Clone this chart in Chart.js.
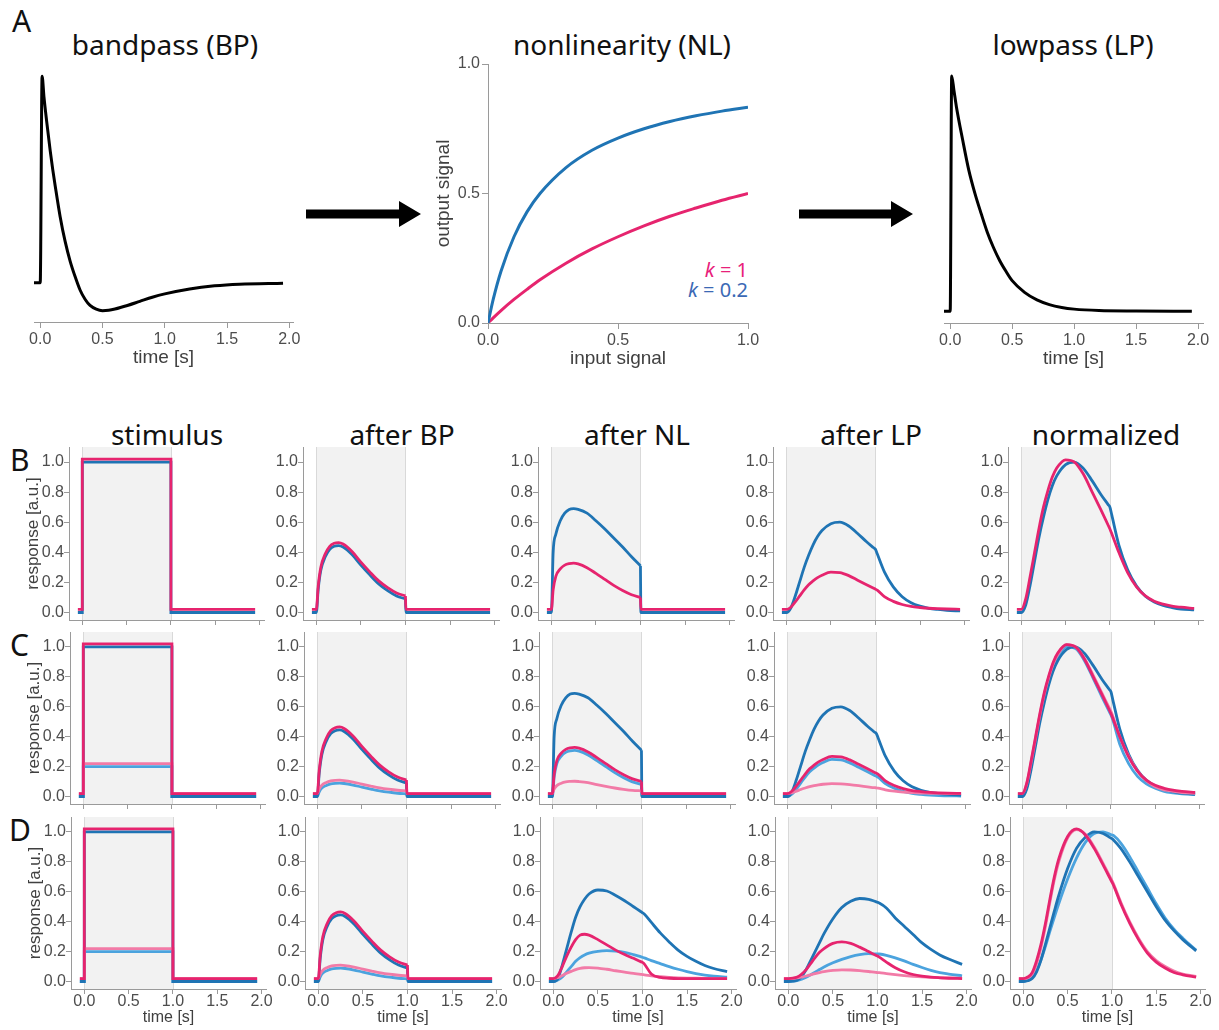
<!DOCTYPE html>
<html>
<head>
<meta charset="utf-8">
<title>LN cascade responses</title>
<script src="https://cdn.jsdelivr.net/npm/chart.js@4.4.1/dist/chart.umd.min.js"></script>
<style>
  body { margin: 0; background: #fff; }
  #page { position: relative; width: 1219px; height: 1030px; overflow: hidden; font-family: "Noto Sans", sans-serif; }
  #page canvas { position: absolute; }
  .head { position: absolute; font-size: 28px; line-height: 28px; color: #111; white-space: nowrap; transform: translateX(-50%); }
  .tag { position: absolute; font-size: 30px; line-height: 30px; color: #111; }
  .klab { position: absolute; font-size: 20px; line-height: 20px; white-space: nowrap; }
  .klab i { font-style: italic; }
</style>
</head>
<body>
<div id="page">
  <div class="tag" style="left:12px;top:6px">A</div>
  <div class="tag" style="left:10px;top:445px">B</div>
  <div class="tag" style="left:10px;top:630px">C</div>
  <div class="tag" style="left:9px;top:815px">D</div>

  <div class="head" style="left:165px;top:30px">bandpass (BP)</div>
  <div class="head" style="left:622px;top:30px">nonlinearity (NL)</div>
  <div class="head" style="left:1073px;top:30px">lowpass (LP)</div>

  <div class="head" style="left:167px;top:420px">stimulus</div>
  <div class="head" style="left:402px;top:420px">after BP</div>
  <div class="head" style="left:637px;top:420px">after NL</div>
  <div class="head" style="left:871px;top:420px">after LP</div>
  <div class="head" style="left:1106px;top:420px">normalized</div>

  <div class="klab" style="right:471px;top:260px;color:#e8207a"><i>k</i> = 1</div>
  <div class="klab" style="right:471px;top:280px;color:#3b69b5"><i>k</i> = 0.2</div>

  <svg width="1219" height="1030" style="position:absolute;left:0;top:0">
    <path d="M306 209.5H399V201L421 214L399 227V218.5H306Z" fill="#000"/>
    <path d="M799 209.5H891V201L913 214L891 227V218.5H799Z" fill="#000"/>
  </svg>
</div>

<script>
// ---- top row: filters and static nonlinearity ----
const T_BANDPASS = [-0.05, 0, 0.015, 0.03, 0.05, 0.08, 0.1, 0.12, 0.16, 0.2, 0.24, 0.28, 0.32, 0.36, 0.4, 0.45, 0.5, 0.55, 0.6, 0.7, 0.8, 0.9, 1.0, 1.2, 1.4, 1.6, 1.95];
const BANDPASS = [0, 0, 1.0, 0.9, 0.79, 0.64, 0.55, 0.47, 0.32, 0.2, 0.105, 0.03, -0.035, -0.08, -0.11, -0.128, -0.135, -0.133, -0.127, -0.11, -0.09, -0.07, -0.054, -0.03, -0.015, -0.007, -0.002];

const T_LOWPASS = [-0.05, 0, 0.012, 0.03, 0.05, 0.1, 0.15, 0.2, 0.25, 0.3, 0.35, 0.4, 0.45, 0.5, 0.6, 0.7, 0.8, 0.9, 1.0, 1.2, 1.5, 1.95];
const LOWPASS = [0, 0, 1.0, 0.94, 0.87, 0.73, 0.6, 0.5, 0.415, 0.335, 0.27, 0.215, 0.17, 0.13, 0.08, 0.048, 0.028, 0.016, 0.009, 0.003, 0.001, 0];

const NL_INPUT = [0, 0.02, 0.05, 0.1, 0.15, 0.2, 0.3, 0.4, 0.5, 0.6, 0.7, 0.8, 0.9, 1.0];
const NL_K02 = [0, 0.091, 0.2, 0.333, 0.429, 0.5, 0.6, 0.667, 0.714, 0.75, 0.778, 0.8, 0.818, 0.833];
const NL_K1 = [0, 0.02, 0.048, 0.091, 0.13, 0.167, 0.231, 0.286, 0.333, 0.375, 0.412, 0.444, 0.474, 0.5];

// ---- response grid: time bases ----
const T_STEP = [-0.05, 0, 0, 1, 1, 1.95];
// the null entry at t = 1 lifts the pen so the offset fall is drawn as its own stroke
const T_PULSE = [-0.05, 0, 0.02, 0.05, 0.1, 0.15, 0.2, 0.25, 0.3, 0.4, 0.5, 0.6, 0.7, 0.8, 0.9, 1.0, 1.0, 1.0, 1.005, 1.1, 1.5, 1.95];
// extra samples either side of t = 1 keep the offset kink sharp
const T_SMOOTH = [-0.05, 0, 0.05, 0.1, 0.15, 0.2, 0.25, 0.3, 0.35, 0.4, 0.5, 0.6, 0.7, 0.8, 0.9, 0.98, 1.0, 1.02, 1.1, 1.2, 1.3, 1.4, 1.5, 1.6, 1.7, 1.8, 1.95];

// stimulus (pink traces sit 0.02 higher so both stay visible)
const STIM_BLUE = [0, 0, 1, 1, 0, 0];
const STIM_PINK = [0.02, 0.02, 1.02, 1.02, 0.02, 0.02];
const STIM_LBLUE = [0, 0, 0.2, 0.2, 0, 0];
const STIM_LPINK = [0.02, 0.02, 0.22, 0.22, 0.02, 0.02];

// after bandpass
const BP_BLUE = [0, 0, 0.15, 0.28, 0.37, 0.42, 0.44, 0.445, 0.435, 0.385, 0.315, 0.25, 0.19, 0.145, 0.11, 0.09, null, 0.09, 0, 0, 0, 0];
const BP_PINK = [0.02, 0.02, 0.17, 0.3, 0.39, 0.44, 0.46, 0.465, 0.455, 0.405, 0.335, 0.27, 0.21, 0.165, 0.13, 0.11, null, 0.11, 0.02, 0.02, 0.02, 0.02];
const BP_LBLUE = [0, 0, 0.03, 0.056, 0.074, 0.084, 0.088, 0.089, 0.087, 0.077, 0.063, 0.05, 0.038, 0.029, 0.022, 0.018, null, 0.018, 0, 0, 0, 0];
const BP_LPINK = [0.02, 0.02, 0.05, 0.076, 0.094, 0.104, 0.108, 0.109, 0.107, 0.097, 0.083, 0.07, 0.058, 0.049, 0.042, 0.038, null, 0.038, 0.02, 0.02, 0.02, 0.02];

// after static nonlinearity (rows B, C)
const NL_BLUE = [0, 0, 0.4, 0.52, 0.61, 0.66, 0.685, 0.69, 0.685, 0.66, 0.61, 0.555, 0.495, 0.435, 0.37, 0.31, null, 0.31, 0, 0, 0, 0];
const NL_PINK = [0.02, 0.02, 0.15, 0.24, 0.29, 0.315, 0.325, 0.328, 0.323, 0.298, 0.26, 0.22, 0.18, 0.146, 0.118, 0.1, null, 0.1, 0.02, 0.02, 0.02, 0.02];
const NL_LBLUE = [0, 0, 0.13, 0.22, 0.27, 0.295, 0.305, 0.308, 0.303, 0.278, 0.24, 0.2, 0.16, 0.126, 0.098, 0.08, null, 0.08, 0, 0, 0, 0];
const NL_LPINK = [0.02, 0.02, 0.05, 0.073, 0.089, 0.098, 0.101, 0.102, 0.1, 0.093, 0.08, 0.068, 0.057, 0.048, 0.041, 0.038, null, 0.038, 0.02, 0.02, 0.02, 0.02];

// after lowpass (rows B, C)
const LP_BLUE = [0, 0, 0.03, 0.11, 0.205, 0.3, 0.38, 0.45, 0.505, 0.545, 0.59, 0.6, 0.575, 0.525, 0.47, 0.43, 0.42, 0.39, 0.27, 0.17, 0.105, 0.065, 0.042, 0.028, 0.02, 0.014, 0.01];
const LP_PINK = [0.02, 0.02, 0.035, 0.07, 0.11, 0.15, 0.185, 0.21, 0.232, 0.248, 0.268, 0.265, 0.245, 0.215, 0.185, 0.161, 0.155, 0.148, 0.105, 0.074, 0.053, 0.04, 0.033, 0.028, 0.025, 0.023, 0.021];
const LP_LBLUE = [0, 0, 0.015, 0.05, 0.09, 0.13, 0.165, 0.19, 0.212, 0.228, 0.248, 0.245, 0.225, 0.195, 0.165, 0.141, 0.135, 0.128, 0.087, 0.055, 0.034, 0.021, 0.014, 0.009, 0.006, 0.005, 0.003];
const LP_LPINK = [0.02, 0.02, 0.025, 0.035, 0.047, 0.057, 0.066, 0.073, 0.078, 0.082, 0.086, 0.085, 0.08, 0.073, 0.065, 0.059, 0.058, 0.056, 0.045, 0.036, 0.03, 0.026, 0.023, 0.022, 0.021, 0.02, 0.02];

// normalized (rows B, C)
const NORM_BLUE = [0, 0, 0.05, 0.183, 0.342, 0.5, 0.633, 0.75, 0.842, 0.908, 0.983, 1.0, 0.958, 0.875, 0.783, 0.717, 0.7, 0.65, 0.45, 0.283, 0.175, 0.108, 0.07, 0.047, 0.033, 0.023, 0.017];
const NORM_PINK = [0.02, 0.02, 0.09, 0.24, 0.4, 0.56, 0.7, 0.81, 0.9, 0.96, 1.015, 1.0, 0.92, 0.8, 0.68, 0.58, 0.555, 0.525, 0.4, 0.265, 0.17, 0.11, 0.075, 0.055, 0.042, 0.035, 0.027];
const NORM_LBLUE = [0, 0, 0.065, 0.21, 0.37, 0.53, 0.67, 0.78, 0.87, 0.93, 1.0, 0.99, 0.91, 0.79, 0.665, 0.569, 0.545, 0.515, 0.35, 0.22, 0.135, 0.085, 0.055, 0.035, 0.025, 0.018, 0.012];
const NORM_LPINK = [0.02, 0.02, 0.085, 0.23, 0.39, 0.55, 0.69, 0.8, 0.89, 0.95, 1.015, 1.0, 0.925, 0.81, 0.69, 0.594, 0.57, 0.54, 0.4, 0.27, 0.17, 0.105, 0.065, 0.045, 0.035, 0.027, 0.022];

// row D: dynamic nonlinearity
const DNL_BLUE = [0, 0, 0.02, 0.11, 0.22, 0.33, 0.43, 0.5, 0.55, 0.585, 0.612, 0.605, 0.575, 0.54, 0.5, 0.468, 0.46, 0.452, 0.395, 0.325, 0.265, 0.21, 0.168, 0.135, 0.107, 0.087, 0.066];
const DNL_PINK = [0.02, 0.02, 0.04, 0.1, 0.17, 0.23, 0.28, 0.31, 0.316, 0.31, 0.28, 0.245, 0.21, 0.18, 0.155, 0.133, 0.128, 0.118, 0.05, 0.027, 0.022, 0.02, 0.02, 0.02, 0.02, 0.02, 0.02];
const DNL_LBLUE = [0, 0, 0.01, 0.03, 0.065, 0.1, 0.135, 0.16, 0.178, 0.19, 0.202, 0.206, 0.203, 0.195, 0.18, 0.166, 0.162, 0.158, 0.14, 0.12, 0.1, 0.082, 0.066, 0.053, 0.043, 0.036, 0.029];
const DNL_LPINK = [0.02, 0.02, 0.025, 0.04, 0.055, 0.068, 0.08, 0.088, 0.092, 0.093, 0.09, 0.082, 0.072, 0.063, 0.054, 0.048, 0.046, 0.045, 0.038, 0.032, 0.028, 0.025, 0.023, 0.022, 0.021, 0.02, 0.02];

const DLP_BLUE = [0, 0, 0.002, 0.01, 0.035, 0.08, 0.14, 0.2, 0.26, 0.32, 0.42, 0.495, 0.537, 0.555, 0.55, 0.534, 0.53, 0.525, 0.492, 0.425, 0.37, 0.315, 0.258, 0.215, 0.178, 0.15, 0.115];
const DLP_PINK = [0.02, 0.02, 0.022, 0.03, 0.05, 0.08, 0.12, 0.16, 0.195, 0.22, 0.255, 0.265, 0.255, 0.23, 0.2, 0.176, 0.17, 0.163, 0.13, 0.092, 0.065, 0.047, 0.036, 0.029, 0.025, 0.022, 0.02];
const DLP_LBLUE = [0, 0, 0.002, 0.006, 0.015, 0.028, 0.045, 0.063, 0.08, 0.097, 0.125, 0.148, 0.167, 0.18, 0.186, 0.185, 0.185, 0.184, 0.175, 0.158, 0.138, 0.115, 0.094, 0.075, 0.06, 0.05, 0.038];
const DLP_LPINK = [0.02, 0.02, 0.021, 0.024, 0.03, 0.037, 0.045, 0.053, 0.06, 0.066, 0.074, 0.078, 0.077, 0.073, 0.067, 0.061, 0.06, 0.059, 0.053, 0.046, 0.04, 0.035, 0.031, 0.028, 0.026, 0.024, 0.022];

const DNORM_BLUE = [0, 0, 0.005, 0.02, 0.065, 0.145, 0.25, 0.36, 0.47, 0.575, 0.755, 0.89, 0.965, 1.0, 0.99, 0.962, 0.955, 0.945, 0.89, 0.8, 0.7, 0.6, 0.5, 0.41, 0.34, 0.28, 0.205];
const DNORM_LBLUE = [0, 0, 0.008, 0.028, 0.075, 0.145, 0.235, 0.335, 0.43, 0.52, 0.685, 0.825, 0.93, 0.99, 1.0, 0.984, 0.98, 0.975, 0.925, 0.835, 0.73, 0.625, 0.52, 0.425, 0.35, 0.29, 0.21];
const DNORM_PINK = [0.02, 0.02, 0.03, 0.06, 0.14, 0.25, 0.39, 0.55, 0.7, 0.82, 0.97, 1.02, 0.98, 0.89, 0.78, 0.688, 0.665, 0.64, 0.52, 0.39, 0.28, 0.19, 0.13, 0.09, 0.06, 0.045, 0.03];
const DNORM_LPINK = [0.02, 0.02, 0.025, 0.05, 0.12, 0.23, 0.37, 0.53, 0.68, 0.8, 0.96, 1.015, 0.985, 0.9, 0.79, 0.698, 0.675, 0.65, 0.53, 0.4, 0.29, 0.2, 0.14, 0.1, 0.07, 0.05, 0.035];

// ticks
const X_TICKS = [0, 0.5, 1, 1.5, 2];
const Y_TICKS = [0, 0.2, 0.4, 0.6, 0.8, 1];
const NL_TICKS = [0, 0.5, 1];
const STIM_WINDOW = [0, 1];

// colours
const BLUE = '#1f74b4', PINK = '#e6246e', LBLUE = '#4ba3de', LPINK = '#f27ba7', BLACK = '#000';
const AXIS_GREY = '#9a9a9a', TICK_GREY = '#4d4d4d', LABEL_GREY = '#404040';
const SANS = '"Liberation Sans", Arial, sans-serif';
const TICK_SIZE = 16;

Chart.defaults.font.family = SANS;

const page = document.getElementById('page');

// grey box marking when the stimulus is on
const stimShade = {
  id: 'stimShade',
  beforeDatasetsDraw(chart, args, opts) {
    if (!opts.on) return;
    const { ctx, chartArea: a, scales: { x } } = chart;
    const x0 = x.getPixelForValue(STIM_WINDOW[0]);
    const x1 = x.getPixelForValue(STIM_WINDOW[1]);
    ctx.save();
    ctx.fillStyle = '#f2f2f2';
    ctx.fillRect(x0, a.top, x1 - x0, a.bottom - a.top);
    ctx.strokeStyle = '#d9d9d9';
    ctx.lineWidth = 1;
    ctx.beginPath();
    [x0, x1].forEach(px => {
      const p = Math.round(px) + 0.5;
      ctx.moveTo(p, a.top);
      ctx.lineTo(p, a.bottom);
    });
    ctx.stroke();
    ctx.restore();
  }
};

function trace(T, Y, color, width) {
  const step = T === T_STEP;
  return {
    data: T.map((t, i) => ({ x: t, y: Y[i] })),
    borderColor: color,
    borderWidth: width,
    pointRadius: 0,
    fill: false,
    spanGaps: false,
    tension: 0,
    cubicInterpolationMode: step ? 'default' : 'monotone'
  };
}

function xScale(o) {
  return {
    type: 'linear', position: 'bottom', min: o.min, max: o.max,
    afterBuildTicks: sc => { sc.ticks = o.ticks.map(v => ({ value: v })); },
    afterFit: sc => { sc.height = o.h; },
    grid: { display: true, drawOnChartArea: false, drawTicks: true, tickLength: o.tl, color: AXIS_GREY, lineWidth: 1 },
    border: { display: true, color: AXIS_GREY, width: 1 },
    ticks: {
      display: o.labels, autoSkip: false, maxRotation: 0, padding: o.pad,
      color: TICK_GREY, font: { family: SANS, size: TICK_SIZE, lineHeight: 1 },
      callback: v => v.toFixed(1)
    },
    title: {
      display: !!o.title, text: o.title || '', color: LABEL_GREY,
      font: { family: SANS, size: o.titleSize || 16, lineHeight: 1.2 },
      padding: { top: 0, bottom: o.titlePad || 0 }
    }
  };
}

function yScale(o) {
  if (!o.show) return { type: 'linear', display: false, min: o.min, max: o.max };
  return {
    type: 'linear', position: 'left', min: o.min, max: o.max,
    afterBuildTicks: sc => { sc.ticks = o.ticks.map(v => ({ value: v })); },
    afterFit: sc => { sc.width = o.w; },
    grid: { display: true, drawOnChartArea: false, drawTicks: true, tickLength: o.tl, color: AXIS_GREY, lineWidth: 1 },
    border: { display: true, color: AXIS_GREY, width: 1 },
    ticks: {
      autoSkip: false, padding: o.pad, color: TICK_GREY,
      font: { family: SANS, size: TICK_SIZE, lineHeight: 1 },
      callback: v => v.toFixed(1)
    },
    title: {
      display: !!o.title, text: o.title || '', color: LABEL_GREY,
      font: { family: SANS, size: o.titleSize || 16, lineHeight: 1.2 },
      padding: { top: o.titlePad || 0, bottom: 0 }
    }
  };
}

// area = plot rectangle in page pixels; the canvas is sized around it
function panel(area, cfg) {
  const yw = cfg.y.show ? cfg.y.w : 0;
  const padL = cfg.y.show ? 0 : 20, padT = 14, padR = 22;
  const left = area.l - yw - padL, top = area.t - padT;
  const cv = document.createElement('canvas');
  cv.width = area.r - left + padR;
  cv.height = area.b - top + cfg.x.h;
  cv.style.left = left + 'px';
  cv.style.top = top + 'px';
  page.appendChild(cv);
  return new Chart(cv, {
    type: 'line',
    data: { datasets: cfg.datasets },
    options: {
      responsive: false,
      animation: false,
      events: [],
      layout: { padding: { left: padL, top: padT, right: padR, bottom: 0 } },
      plugins: {
        legend: { display: false },
        tooltip: { enabled: false },
        stimShade: { on: !!cfg.shade }
      },
      scales: { x: xScale(cfg.x), y: yScale(cfg.y) }
    },
    plugins: [stimShade]
  });
}

// ---- A: bandpass, nonlinearity, lowpass ----
const topX = { ticks: X_TICKS, tl: 6, pad: 4, labels: true, h: 50, title: 'time [s]', titleSize: 19, titlePad: 3 };

panel({ l: 34, r: 293, t: 70, b: 322 }, {
  datasets: [trace(T_BANDPASS, BANDPASS, BLACK, 3)],
  x: Object.assign({ min: -0.05, max: 2.03 }, topX),
  y: { show: false, min: -0.19, max: 1.03 }
});

panel({ l: 488, r: 748, t: 64, b: 323 }, {
  datasets: [trace(NL_INPUT, NL_K02, BLUE, 3), trace(NL_INPUT, NL_K1, PINK, 3)],
  x: { min: 0, max: 1, ticks: NL_TICKS, tl: 6, pad: 4, labels: true, h: 50, title: 'input signal', titleSize: 19, titlePad: 3 },
  y: { show: true, min: 0, max: 1, ticks: NL_TICKS, tl: 6, pad: 2, w: 60, title: 'output signal', titleSize: 19, titlePad: 4 }
});

panel({ l: 944, r: 1203, t: 69, b: 323 }, {
  datasets: [trace(T_LOWPASS, LOWPASS, BLACK, 3)],
  x: Object.assign({ min: -0.05, max: 2.04 }, topX),
  y: { show: false, min: -0.05, max: 1.03 }
});

// ---- B-D: responses through the cascade ----
const X_MIN = -0.15, X_MAX = 2.05, Y_MIN = -0.05, Y_MAX = 1.1;
const COL_T0 = [82.3, 316.7, 551.7, 786.7, 1021];   // page x of t = 0 per column
const ROW_SHIFT = [0, 1, 2];
const ROW_Y0 = [612.2, 796.7, 981.7];                // page y of response 0 per row
const PX_PER_S = 88.8, PX_PER_UNIT = 150;

function gridArea(r, c) {
  const t0 = COL_T0[c] + ROW_SHIFT[r], y0 = ROW_Y0[r];
  return {
    l: Math.round(t0 + X_MIN * PX_PER_S),
    r: Math.round(t0 + X_MAX * PX_PER_S),
    t: Math.round(y0 - Y_MAX * PX_PER_UNIT),
    b: Math.round(y0 - Y_MIN * PX_PER_UNIT)
  };
}

// listed top-most first
const GRID = [
  [
    [[T_STEP, STIM_PINK, PINK], [T_STEP, STIM_BLUE, BLUE]],
    [[T_PULSE, BP_PINK, PINK], [T_PULSE, BP_BLUE, BLUE]],
    [[T_PULSE, NL_PINK, PINK], [T_PULSE, NL_BLUE, BLUE]],
    [[T_SMOOTH, LP_PINK, PINK], [T_SMOOTH, LP_BLUE, BLUE]],
    [[T_SMOOTH, NORM_PINK, PINK], [T_SMOOTH, NORM_BLUE, BLUE]]
  ],
  [
    [[T_STEP, STIM_PINK, PINK], [T_STEP, STIM_LPINK, LPINK], [T_STEP, STIM_BLUE, BLUE], [T_STEP, STIM_LBLUE, LBLUE]],
    [[T_PULSE, BP_PINK, PINK], [T_PULSE, BP_LPINK, LPINK], [T_PULSE, BP_BLUE, BLUE], [T_PULSE, BP_LBLUE, LBLUE]],
    [[T_PULSE, NL_PINK, PINK], [T_PULSE, NL_LPINK, LPINK], [T_PULSE, NL_BLUE, BLUE], [T_PULSE, NL_LBLUE, LBLUE]],
    [[T_SMOOTH, LP_PINK, PINK], [T_SMOOTH, LP_LPINK, LPINK], [T_SMOOTH, LP_BLUE, BLUE], [T_SMOOTH, LP_LBLUE, LBLUE]],
    [[T_SMOOTH, NORM_PINK, PINK], [T_SMOOTH, NORM_LPINK, LPINK], [T_SMOOTH, NORM_BLUE, BLUE], [T_SMOOTH, NORM_LBLUE, LBLUE]]
  ],
  [
    [[T_STEP, STIM_PINK, PINK], [T_STEP, STIM_LPINK, LPINK], [T_STEP, STIM_BLUE, BLUE], [T_STEP, STIM_LBLUE, LBLUE]],
    [[T_PULSE, BP_PINK, PINK], [T_PULSE, BP_LPINK, LPINK], [T_PULSE, BP_BLUE, BLUE], [T_PULSE, BP_LBLUE, LBLUE]],
    [[T_SMOOTH, DNL_PINK, PINK], [T_SMOOTH, DNL_LPINK, LPINK], [T_SMOOTH, DNL_BLUE, BLUE], [T_SMOOTH, DNL_LBLUE, LBLUE]],
    [[T_SMOOTH, DLP_PINK, PINK], [T_SMOOTH, DLP_LPINK, LPINK], [T_SMOOTH, DLP_BLUE, BLUE], [T_SMOOTH, DLP_LBLUE, LBLUE]],
    [[T_SMOOTH, DNORM_PINK, PINK], [T_SMOOTH, DNORM_LPINK, LPINK], [T_SMOOTH, DNORM_BLUE, BLUE], [T_SMOOTH, DNORM_LBLUE, LBLUE]]
  ]
];

GRID.forEach((row, r) => row.forEach((traces, c) => {
  const first = c === 0, last = r === GRID.length - 1;
  panel(gridArea(r, c), {
    shade: true,
    datasets: traces.map(([T, Y, color]) => trace(T, Y, color, 2.8)),
    x: {
      min: X_MIN, max: X_MAX, ticks: X_TICKS, tl: 5, pad: 0,
      labels: last, h: last ? 40 : 12,
      title: last ? 'time [s]' : null, titleSize: 16, titlePad: 2
    },
    y: {
      show: true, min: Y_MIN, max: Y_MAX, ticks: Y_TICKS, tl: 5, pad: 0,
      w: first ? 62 : 30,
      title: first ? 'response [a.u.]' : null, titleSize: 17, titlePad: 16
    }
  });
}));
</script>
</body>
</html>
